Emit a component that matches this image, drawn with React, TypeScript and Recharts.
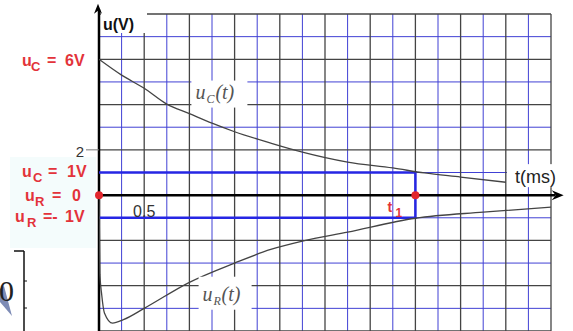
import React from 'react'
import {
  CartesianGrid,
  Line,
  LineChart,
  ReferenceDot,
  ReferenceLine,
  XAxis,
  YAxis,
} from 'recharts'

// capacitor voltage u_C(t)
const uC = [
  { t: 0, v: 6.0 },
  { t: 0.25, v: 5.3 },
  { t: 0.5, v: 4.72 },
  { t: 0.75, v: 4.02 },
  { t: 1.0, v: 3.6 },
  { t: 1.25, v: 3.18 },
  { t: 1.5, v: 2.8 },
  { t: 1.9, v: 2.3 },
  { t: 2.25, v: 1.9 },
  { t: 2.75, v: 1.46 },
  { t: 3.25, v: 1.2 },
  { t: 3.6, v: 0.98 },
  { t: 4.0, v: 0.8 },
  { t: 4.5, v: 0.57 },
]

// resistor voltage u_R(t)
const uR = [
  { t: 0, v: 0 },
  { t: 0.01, v: -3.5 },
  { t: 0.03, v: -4.4 },
  { t: 0.06, v: -5.2 },
  { t: 0.15, v: -5.65 },
  { t: 0.27, v: -5.5 },
  { t: 0.5, v: -5.0 },
  { t: 1.0, v: -3.85 },
  { t: 1.5, v: -3.0 },
  { t: 1.9, v: -2.4 },
  { t: 2.25, v: -2.03 },
  { t: 2.75, v: -1.63 },
  { t: 3.5, v: -1.02 },
  { t: 4.25, v: -0.75 },
  { t: 5.0, v: -0.53 },
]

// blue construction lines u = 1V, t = t1, u = -1V
const t1 = 3.5
const marker = [
  { t: 0, v: 1 },
  { t: t1, v: 1 },
  { t: t1, v: -1 },
  { t: 0, v: -1 },
]

// millimetre-paper grid: black and blue lines alternate
const blackT = [0.5, 1, 1.5, 2, 2.5, 3, 3.5, 4, 4.5, 5]
const blueT = [0.25, 0.75, 1.25, 1.75, 2.25, 2.75, 3.25, 3.75, 4.25, 4.75]
const blackV = [8, 6, 4, 2, -2, -4, -6]
const blueV = [7, 5, 3, 1, -1, -3, -5]

const RED = '#e3333a'
const BLUE_GRID = '#4040d4'
const BLACK_GRID = '#444'
const sans = '"Liberation Sans", Arial, sans-serif'
const serif = '"Liberation Serif", "Times New Roman", serif'

// draw arbitrary svg at a data point
const at = (fn: (x: number, y: number) => React.ReactNode) => (p: any) => (
  <g>{fn(p.cx, p.cy)}</g>
)

function RedLabel({ x, y, sub, eq, val, pos }: any) {
  return (
    <text fill={RED} fontFamily={sans} fontWeight="bold" fontSize={16} y={y}>
      <tspan x={x + pos[0]}>u</tspan>
      <tspan x={x + pos[1]} dy={5} fontSize={13}>
        {sub}
      </tspan>
      <tspan x={x + pos[2]} dy={-5}>
        {eq}
      </tspan>
      <tspan x={x + pos[3]}>{val}</tspan>
    </text>
  )
}

function Fragments() {
  // leftovers of the slide at the bottom left
  return (
    <svg
      width={573}
      height={331}
      style={{ position: 'absolute', left: 0, top: 0 }}
    >
      <rect x={10} y={157} width={86} height={91} fill="#f4fcfc" />
      <polygon points="0,289 4,286 12,316 0,302" fill="#7d8bb5" />
      <text x={-1} y={301} fontFamily={serif} fontSize={30} fill="#222">
        0
      </text>
      <line x1={24} y1={251} x2={24} y2={331} stroke="#111" strokeWidth={1.5} />
      <line x1={14} y1={251} x2={24} y2={251} stroke="#111" strokeWidth={1.5} />
      <line x1={24} y1={281} x2={27} y2={281} stroke="#111" strokeWidth={1} />
      <line x1={24} y1={308} x2={27} y2={308} stroke="#111" strokeWidth={1} />
    </svg>
  )
}

export default function App() {
  return (
    <div
      style={{
        position: 'absolute',
        left: 0,
        top: 0,
        width: 573,
        height: 331,
        background: '#fff',
        overflow: 'hidden',
      }}
    >
      <Fragments />
      <div style={{ position: 'absolute', left: 0, top: 0 }}>
        <LineChart
          width={573}
          height={331}
          margin={{ top: 14, right: 22, bottom: 0, left: 99 }}
        >
          <XAxis
            dataKey="t"
            type="number"
            domain={[0, 5]}
            allowDataOverflow
            hide
          />
          <YAxis type="number" domain={[-6, 8]} allowDataOverflow hide />
          <CartesianGrid
            stroke={BLUE_GRID}
            strokeWidth={1}
            horizontalValues={blueV}
            verticalValues={blueT}
          />
          <CartesianGrid
            stroke={BLACK_GRID}
            strokeWidth={1.3}
            horizontalValues={blackV}
            verticalValues={blackT}
          />

          {/* white boxes behind labels that sit on the grid */}
          <ReferenceDot
            x={0}
            y={8}
            r={0}
            shape={at((x, y) => (
              <>
                <rect x={x + 2} y={y - 14} width={46} height={33} fill="#fff" />
                <text
                  x={x + 4}
                  y={y + 16}
                  fontFamily={sans}
                  fontWeight="bold"
                  fontSize={16}
                  fill="#111"
                >
                  u(V)
                </text>
              </>
            ))}
          />
          <ReferenceDot
            x={5}
            y={0}
            r={0}
            shape={at((x, y) => (
              <>
                <rect x={x - 44} y={y - 31} width={49} height={23} fill="#fff" />
                <text
                  x={x + 5}
                  y={y - 12}
                  textAnchor="end"
                  fontFamily={sans}
                  fontSize={18}
                  fill="#222"
                >
                  t(ms)
                </text>
              </>
            ))}
          />
          <ReferenceDot
            x={1}
            y={4}
            r={0}
            shape={at((x, y) => (
              <>
                <rect x={x + 2} y={y - 24} width={56} height={27} fill="#fff" />
                <text
                  y={y - 6}
                  fontFamily={serif}
                  fontStyle="italic"
                  fontSize={20}
                  fill="#555"
                >
                  <tspan x={x + 6}>u</tspan>
                  <tspan x={x + 17} dy={4} fontSize={12}>
                    C
                  </tspan>
                  <tspan x={x + 26} dy={-4}>
                    (t)
                  </tspan>
                </text>
              </>
            ))}
          />
          <ReferenceDot
            x={1.5}
            y={-4}
            r={0}
            shape={at((x, y) => (
              <>
                <rect x={x - 36} y={y - 9} width={53} height={33} fill="#fff" />
                <text
                  y={y + 15}
                  fontFamily={serif}
                  fontStyle="italic"
                  fontSize={20}
                  fill="#555"
                >
                  <tspan x={x - 32}>u</tspan>
                  <tspan x={x - 21} dy={4} fontSize={12}>
                    R
                  </tspan>
                  <tspan x={x - 13} dy={-4}>
                    (t)
                  </tspan>
                </text>
              </>
            ))}
          />

          {/* axes with arrows */}
          <ReferenceLine
            segment={[
              { x: 0, y: -6 },
              { x: 0, y: 8.2 },
            ]}
            ifOverflow="visible"
            stroke="#000"
            strokeWidth={2.5}
          />
          <ReferenceLine
            segment={[
              { x: 0, y: 0 },
              { x: 5.05, y: 0 },
            ]}
            ifOverflow="visible"
            stroke="#000"
            strokeWidth={2.5}
          />
          <ReferenceDot
            x={0}
            y={8.45}
            r={0}
            ifOverflow="visible"
            shape={at((x, y) => (
              <polygon
                points={`${x - 1},${y} ${x - 5},${y + 10} ${x - 1},${y + 7} ${x + 3},${y + 10}`}
                fill="#000"
              />
            ))}
          />
          <ReferenceDot
            x={5.14}
            y={0}
            r={0}
            ifOverflow="visible"
            shape={at((x, y) => (
              <polygon
                points={`${x},${y} ${x - 12},${y - 5} ${x - 8},${y} ${x - 12},${y + 5}`}
                fill="#000"
              />
            ))}
          />

          <Line
            data={marker}
            dataKey="v"
            type="linear"
            stroke="#2626e4"
            strokeWidth={2.5}
            dot={false}
            isAnimationActive={false}
          />
          <Line
            data={uC}
            dataKey="v"
            type="monotone"
            stroke="#444"
            strokeWidth={1.3}
            dot={false}
            isAnimationActive={false}
          />
          <Line
            data={uR}
            dataKey="v"
            type="monotone"
            stroke="#444"
            strokeWidth={1.3}
            dot={false}
            isAnimationActive={false}
          />

          {/* value labels left of the u axis */}
          <ReferenceDot
            x={0}
            y={6}
            r={0}
            shape={at((x, y) => (
              <RedLabel x={x - 77} y={y + 7} sub="C" eq="=" val="6V" pos={[0, 9, 25, 43]} />
            ))}
          />
          <ReferenceDot
            x={0}
            y={2}
            r={0}
            shape={at((x, y) => (
              <>
                <text
                  x={x - 15}
                  y={y + 7}
                  textAnchor="end"
                  fontFamily={sans}
                  fontSize={15}
                  fill="#333"
                >
                  2
                </text>
                <line x1={x - 13} y1={y} x2={x} y2={y} stroke="#777" strokeWidth={1} />
              </>
            ))}
          />
          <ReferenceDot
            x={0}
            y={1}
            r={0}
            shape={at((x, y) => (
              <RedLabel x={x - 77} y={y + 4} sub="C" eq="=" val="1V" pos={[0, 11, 26, 45]} />
            ))}
          />
          <ReferenceDot
            x={0}
            y={0}
            r={0}
            shape={at((x, y) => (
              <RedLabel x={x - 74} y={y + 6} sub="R" eq="=" val="0" pos={[0, 10, 27, 47]} />
            ))}
          />
          <ReferenceDot
            x={0}
            y={-1}
            r={0}
            shape={at((x, y) => (
              <RedLabel x={x - 84} y={y + 4} sub="R" eq="=-" val="1V" pos={[0, 12, 28, 50]} />
            ))}
          />
          <ReferenceDot
            x={0.5}
            y={0}
            r={0}
            shape={at((x, y) => (
              <text
                x={x}
                y={y + 22}
                textAnchor="middle"
                fontFamily={sans}
                fontSize={16}
                fill="#333"
              >
                0.5
              </text>
            ))}
          />
          <ReferenceDot
            x={t1}
            y={0}
            r={0}
            shape={at((x, y) => (
              <text fill={RED} fontFamily={sans} fontWeight="bold" fontSize={14}>
                <tspan x={x - 28} y={y + 17}>
                  t
                </tspan>
                <tspan x={x - 20} y={y + 22} fontSize={12}>
                  1
                </tspan>
              </text>
            ))}
          />

          {/* red points on the t axis */}
          <ReferenceDot x={0} y={0} r={4} fill="#e2262d" stroke="none" />
          <ReferenceDot x={t1} y={0} r={4} fill="#e2262d" stroke="none" />
        </LineChart>
      </div>
    </div>
  )
}
